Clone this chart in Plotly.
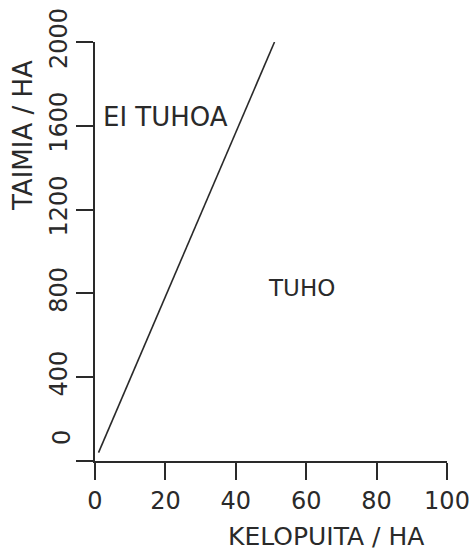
import plotly.graph_objects as go

# Data
line_x = [1, 51]
line_y = [40, 2000]
x_ticks = [0, 20, 40, 60, 80, 100]
y_ticks = [0, 400, 800, 1200, 1600, 2000]
y_tick_text = ["", "400", "800", "1200", "1600", "2000"]
x_title = "KELOPUITA / HA"
y_title = "TAIMIA / HA"
regions = [
    {"text": "EI TUHOA", "x": 1.8, "y": 1640, "anchor": "left", "size": 26},
    {"text": "TUHO", "x": 58.8, "y": 826, "anchor": "center", "size": 23},
]

INK = "#2a2a2a"
FONT = "DejaVu Sans"
W, H = 469, 550
L, R, T, B = 95, 22, 42, 89
PW, PH = W - L - R, H - T - B

fig = go.Figure()
fig.add_trace(go.Scatter(x=line_x, y=line_y, mode="lines",
                         line=dict(color=INK, width=1.6), showlegend=False,
                         hoverinfo="skip"))

for r in regions:
    fig.add_annotation(x=r["x"], y=r["y"], xref="x", yref="y", text=r["text"],
                       showarrow=False, xanchor=r["anchor"], yanchor="middle",
                       font=dict(family=FONT, size=r["size"], color=INK))

# "0" label on y axis sits above the x axis
fig.add_annotation(x=0, y=0, xref="paper", yref="y", text="0", showarrow=False,
                   textangle=-90, xanchor="center", yanchor="middle",
                   xshift=-33, yshift=23, font=dict(family=FONT, size=24, color=INK))

# Axis titles
fig.add_annotation(x=(326 - L) / PW, xref="paper", y=-(536 - (H - B)) / PH, yref="paper",
                   text=x_title, showarrow=False, xanchor="center", yanchor="middle",
                   font=dict(family=FONT, size=25, color=INK))
fig.add_annotation(x=-(L - 23) / PW, xref="paper", y=((H - B) - 136) / PH, yref="paper",
                   text=y_title, textangle=-90, showarrow=False,
                   xanchor="center", yanchor="middle",
                   font=dict(family=FONT, size=26, color=INK))

fig.update_layout(
    width=W, height=H,
    margin=dict(l=L, r=R, t=T, b=B, autoexpand=False),
    paper_bgcolor="white", plot_bgcolor="white",
    showlegend=False,
    xaxis=dict(range=[0, 100], tickvals=x_ticks, showgrid=False, zeroline=False,
               showline=True, linecolor=INK, linewidth=1.6, automargin=False,
               ticks="outside", ticklen=17, tickwidth=1.6, tickcolor=INK,
               ticklabeloverflow="allow",
               tickfont=dict(family=FONT, size=24, color=INK), fixedrange=True),
    yaxis=dict(range=[0, 2000], tickvals=y_ticks, ticktext=y_tick_text,
               showgrid=False, zeroline=False, automargin=False,
               showline=True, linecolor=INK, linewidth=1.6,
               ticks="outside", ticklen=17, tickwidth=1.6, tickcolor=INK,
               tickangle=-90, ticklabeloverflow="allow",
               tickfont=dict(family=FONT, size=24, color=INK), fixedrange=True),
)

fig.write_html("out.html", config={"displayModeBar": False},
               post_script="document.body.style.margin='0';document.body.style.overflow='hidden';")
